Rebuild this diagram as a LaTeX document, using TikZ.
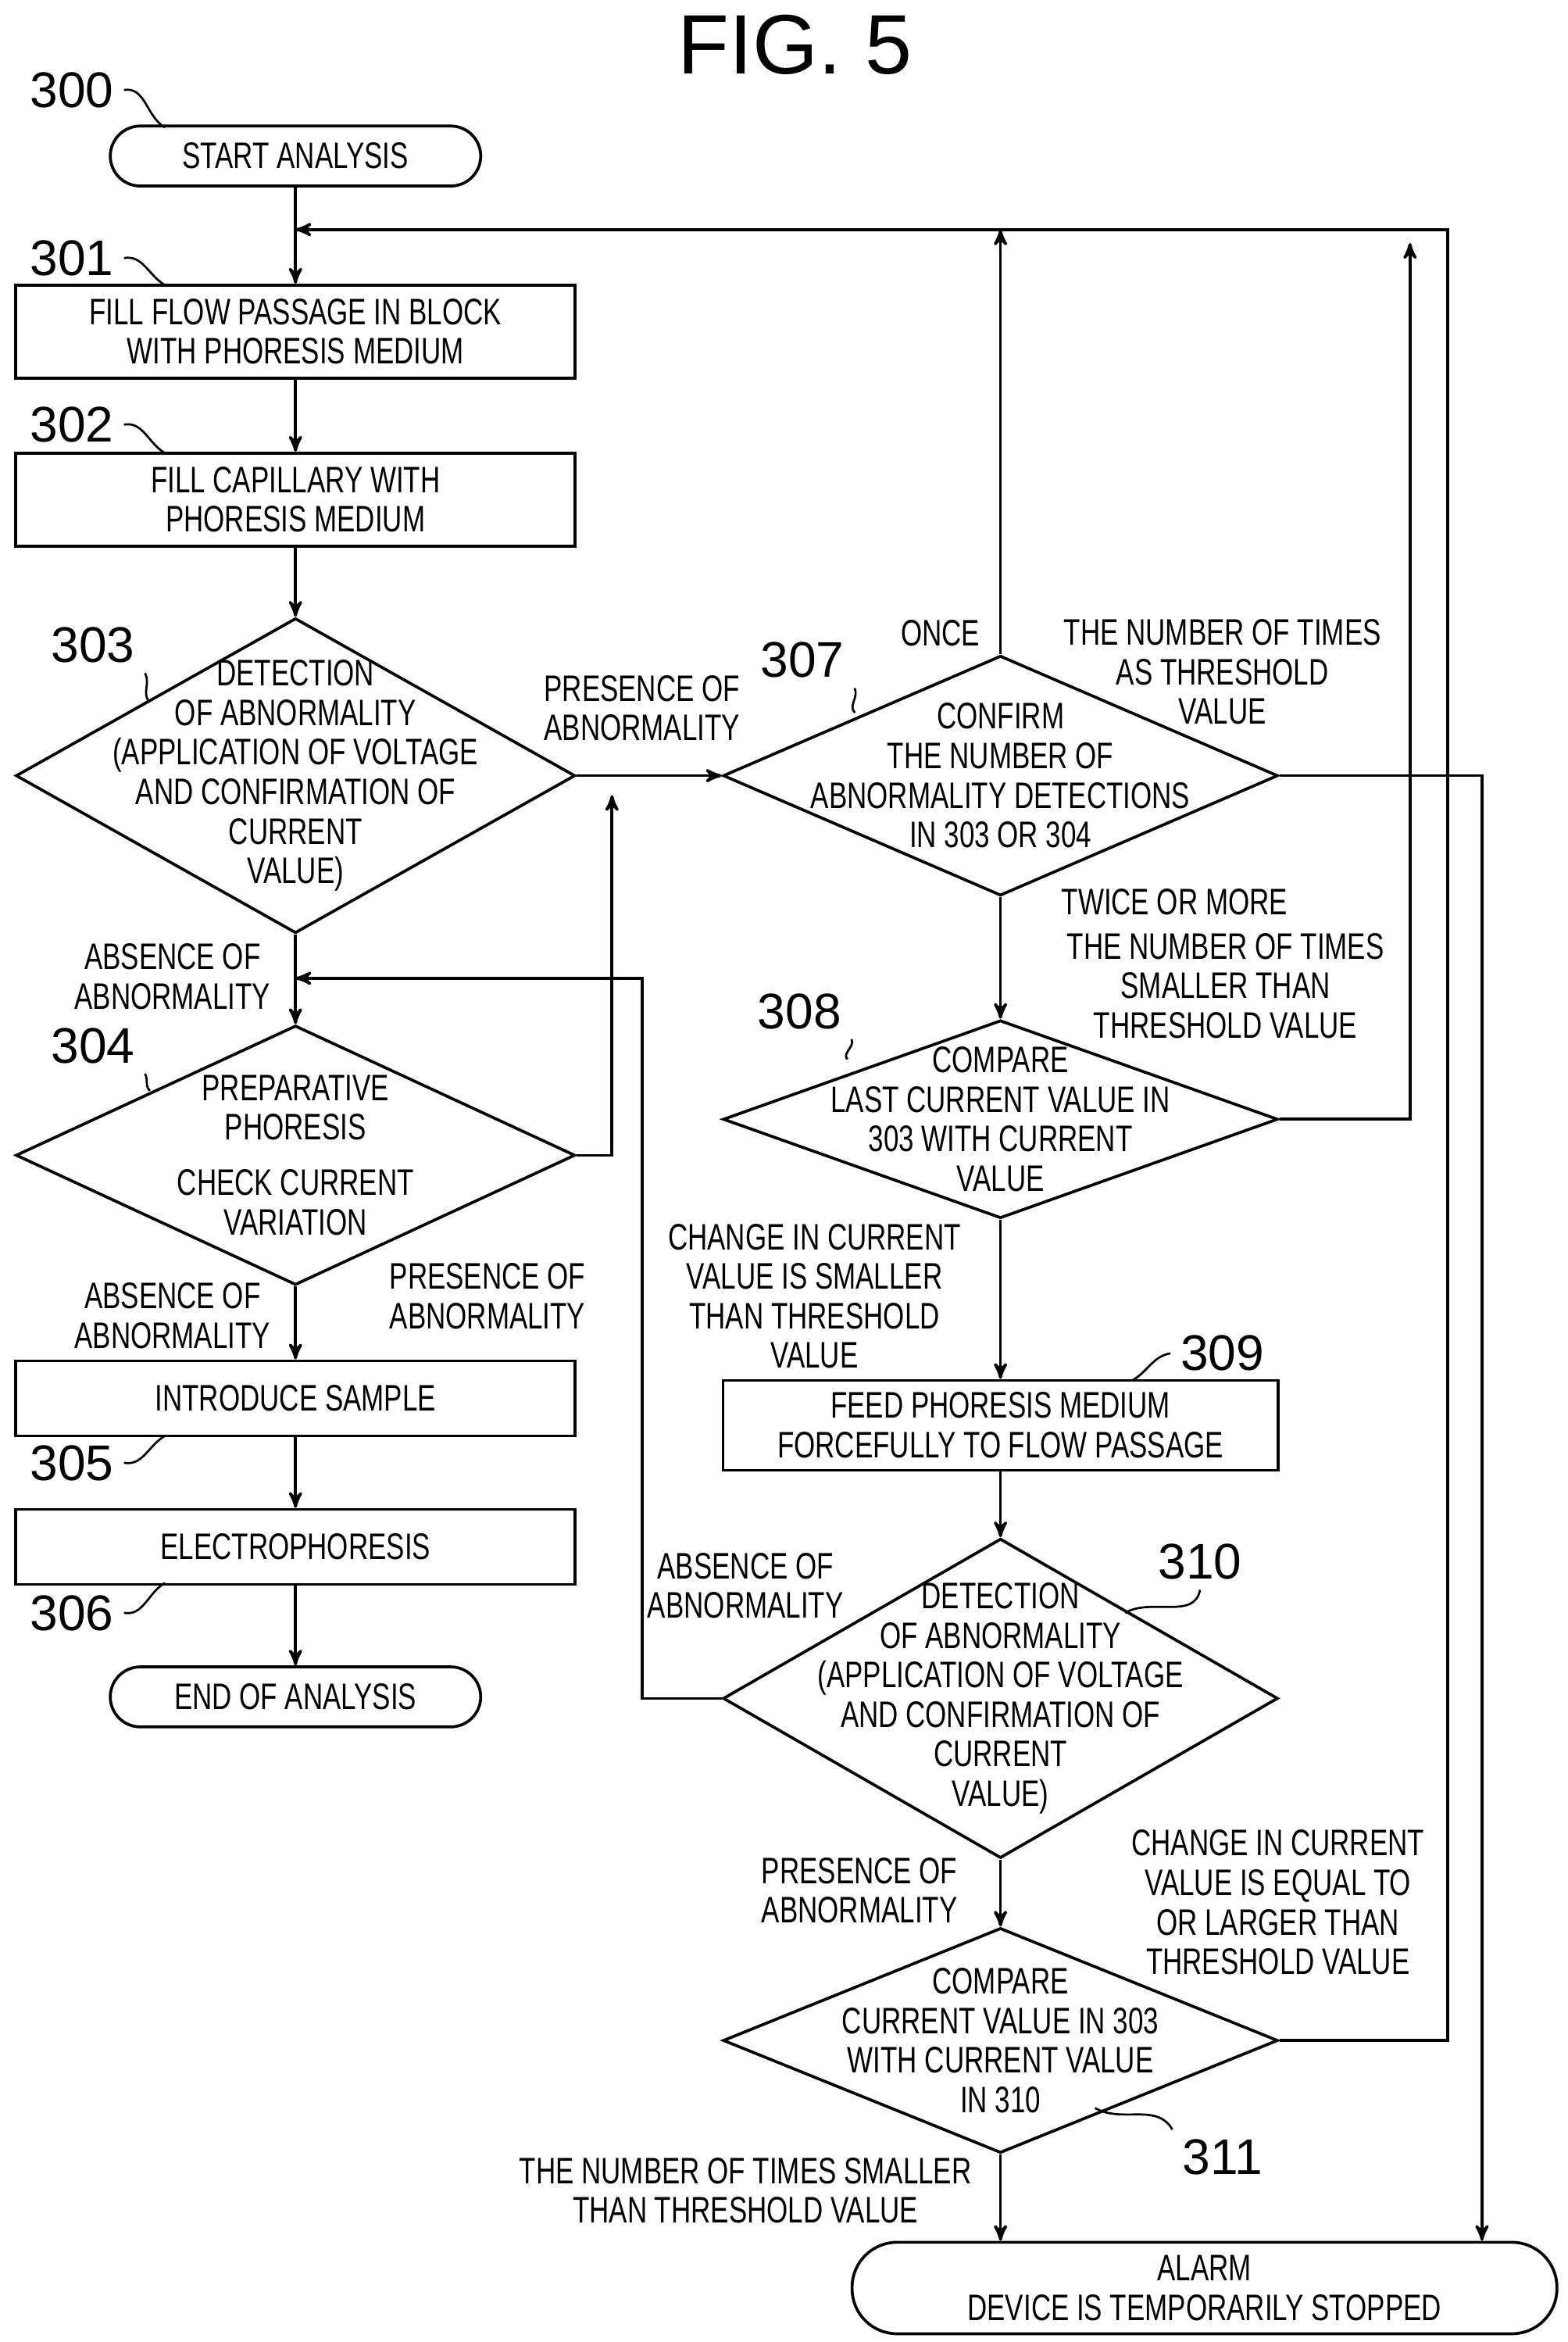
\documentclass[tikz,border=0pt]{standalone}
\usepackage{fontspec}
\setmainfont[FakeStretch=0.74]{Liberation Sans}
\newfontfamily\numfont{Liberation Sans}
\usetikzlibrary{arrows,shapes.geometric,positioning}
\begin{document}
\begin{tikzpicture}[x=0.02cm,y=-0.02cm,>=stealth',line width=1.1pt,
    every node/.style={font=\fontsize{14}{15}\selectfont,align=center},
    box/.style={draw,rectangle,minimum width=7.46cm,minimum height=1.24cm,inner sep=0pt},
    term/.style={draw,rounded corners=0.4cm,minimum width=4.94cm,minimum height=0.8cm},
    diam/.style={draw,diamond,inner sep=0pt,minimum width=#1},
    num/.style={font=\numfont\fontsize{19}{20}\selectfont}]
  \useasboundingbox (0,0) rectangle (1045,1561);
  \node[font=\numfont\fontsize{32}{34}\selectfont] (fig) at (530,30) {FIG. 5};

  % left column
  \node[term] (300) at (197,104) {START ANALYSIS};
  \node[box] (301) at (197,221) {FILL FLOW PASSAGE IN BLOCK\\WITH PHORESIS MEDIUM};
  \node[box] (302) at (197,333) {FILL CAPILLARY WITH\\PHORESIS MEDIUM};
  \node[diam=7.46cm,minimum height=4.2cm] (303) at (197,517) {};
  \node at (303) {DETECTION\\OF ABNORMALITY\\(APPLICATION OF VOLTAGE\\AND CONFIRMATION OF\\CURRENT\\VALUE)};
  \node[diam=7.46cm,minimum height=3.46cm] (304) at (197,770) {};
  \node at (304) {PREPARATIVE\\PHORESIS\\[6pt]CHECK CURRENT\\VARIATION};
  \node[box,minimum height=1cm] (305) at (197,932) {INTRODUCE SAMPLE};
  \node[box,minimum height=1cm] (306) at (197,1031) {ELECTROPHORESIS};
  \node[term] (end) at (197,1131) {END OF ANALYSIS};

  % right column
  \node[diam=7.4cm,minimum height=3.2cm] (307) at (667,517) {};
  \node at (307) {CONFIRM\\THE NUMBER OF\\ABNORMALITY DETECTIONS\\IN 303 OR 304};
  \node[diam=7.4cm,minimum height=2.64cm] (308) at (667,746) {};
  \node at (308) {COMPARE\\LAST CURRENT VALUE IN\\303 WITH CURRENT\\VALUE};
  \node[box,minimum width=7.4cm,minimum height=1.2cm] (309) at (667,950) {FEED PHORESIS MEDIUM\\FORCEFULLY TO FLOW PASSAGE};
  \node[diam=7.4cm,minimum height=4.26cm] (310) at (667,1132) {};
  \node at (310) {DETECTION\\OF ABNORMALITY\\(APPLICATION OF VOLTAGE\\AND CONFIRMATION OF\\CURRENT\\VALUE)};
  \node[diam=7.4cm,minimum height=3cm] (311) at (667,1360) {};
  \node at (311) {COMPARE\\CURRENT VALUE IN 303\\WITH CURRENT VALUE\\IN 310};
  \node[term,minimum width=9.4cm,minimum height=1.22cm,rounded corners=0.6cm] (alarm) at (803,1525) {ALARM\\DEVICE IS TEMPORARILY STOPPED};

  % step numbers
  \node[num] (n300) at (48,60) {300};
  \node[num] (n301) at (48,172) {301};
  \node[num] (n302) at (48,283) {302};
  \node[num] (n303) at (62,430) {303};
  \node[num] (n304) at (62,697) {304};
  \node[num] (n305) at (48,975) {305};
  \node[num] (n306) at (48,1075) {306};
  \node[num] (n307) at (535,440) {307};
  \node[num] (n308) at (533,674) {308};
  \node[num] (n309) at (815,902) {309};
  \node[num] (n310) at (800,1041) {310};
  \node[num] (n311) at (815,1438) {311};
  \draw[line width=0.8pt] (n300.east) to[out=10,in=150] (110,85);
  \draw[line width=0.8pt] (n301.east) to[out=10,in=150] (110,190);
  \draw[line width=0.8pt] (n302.east) to[out=10,in=150] (110,302);
  \draw[line width=0.8pt] (n303.south east) to[out=-60,in=140] (100,468);
  \draw[line width=0.8pt] (n304.south east) to[out=-60,in=140] (100,727);
  \draw[line width=0.8pt] (n305.east) to[out=-10,in=-150] (110,957);
  \draw[line width=0.8pt] (n306.east) to[out=-10,in=-150] (110,1055);
  \draw[line width=0.8pt] (n307.south east) to[out=-60,in=140] (570,475);
  \draw[line width=0.8pt] (n308.south east) to[out=-60,in=140] (565,706);
  \draw[line width=0.8pt] (n309.west) to[out=190,in=30] (755,920);
  \draw[line width=0.8pt] (n310.south) to[out=-100,in=30] (750,1075);
  \draw[line width=0.8pt] (n311.north west) to[out=120,in=-30] (730,1405);

  % junction points
  \coordinate (jtop) at (197,153);
  \coordinate (j304) at (197,652);
  \coordinate (j307) at (408,517);

  % connectors
  \draw[->] (300) -- (301);
  \draw[->] (301) -- (302);
  \draw[->] (302) -- (303);
  \draw[->] (303) -- (304);
  \draw[->] (304) -- (305);
  \draw[->] (305) -- (306);
  \draw[->] (306) -- (end);
  \draw[->] (303.east) -- (307.west);
  \draw[->] (304.east) -- (408,770) -- (408,530);
  \draw[->] (310.west) -- (428,1132) -- (428,652) -- (j304);
  \draw[->] (307.north) -- (667,153);
  \draw[->] (307.east) -- (988,517) -- (alarm.north -| 988,0);
  \draw[->] (307) -- (308);
  \draw[->] (308.east) -- (940,746) -- (940,162);
  \draw[->] (308) -- (309);
  \draw[->] (309) -- (310);
  \draw[->] (310) -- (311);
  \draw[->] (311.east) -- (965,1360) -- (965,153) -- (jtop);
  \draw[->] (311.south) -- (alarm.north -| 311.south);

  % branch labels
  \node at (428,472) {PRESENCE OF\\ABNORMALITY};
  \node at (115,651) {ABSENCE OF\\ABNORMALITY};
  \node at (325,864) {PRESENCE OF\\ABNORMALITY};
  \node at (115,877) {ABSENCE OF\\ABNORMALITY};
  \node at (627,422) {ONCE};
  \node at (815,448) {THE NUMBER OF TIMES\\AS THRESHOLD\\VALUE};
  \node at (783,601) {TWICE OR MORE};
  \node at (817,657) {THE NUMBER OF TIMES\\SMALLER THAN\\THRESHOLD VALUE};
  \node at (543,864) {CHANGE IN CURRENT\\VALUE IS SMALLER\\THAN THRESHOLD\\VALUE};
  \node at (497,1057) {ABSENCE OF\\ABNORMALITY};
  \node at (573,1260) {PRESENCE OF\\ABNORMALITY};
  \node at (852,1268) {CHANGE IN CURRENT\\VALUE IS EQUAL TO\\OR LARGER THAN\\THRESHOLD VALUE};
  \node at (497,1460) {THE NUMBER OF TIMES SMALLER\\THAN THRESHOLD VALUE};
\end{tikzpicture}
\end{document}
